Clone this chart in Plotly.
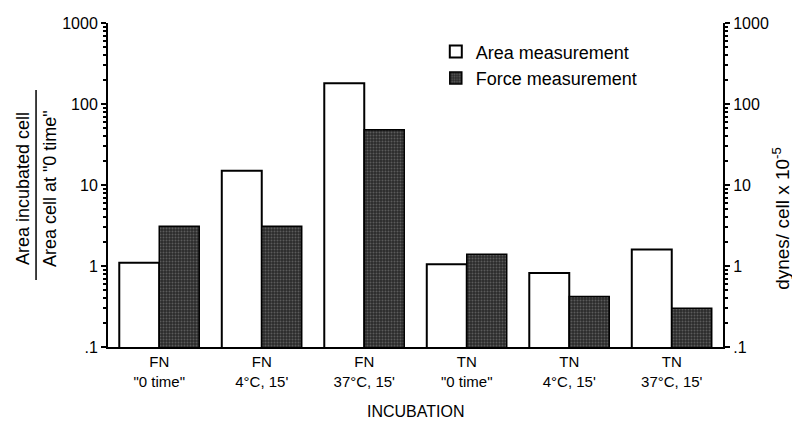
import plotly.graph_objects as go

categories = ['FN<br>"0 time"', "FN<br>4°C, 15'", "FN<br>37°C, 15'",
              'TN<br>"0 time"', "TN<br>4°C, 15'", "TN<br>37°C, 15'"]
area_values = [1.1, 15, 180, 1.05, 0.82, 1.6]
force_values = [3.1, 3.1, 48, 1.4, 0.42, 0.30]
tick_vals = [0.1, 1, 10, 100, 1000]
tick_text = [".1", "1", "10", "100", "1000"]

FONT = "Liberation Sans, Arial, Helvetica, sans-serif"

fig = go.Figure()
fig.add_trace(go.Bar(
    x=categories, y=area_values, name="Area measurement",
    marker=dict(color="white", line=dict(color="black", width=2)),
    width=0.39, offset=-0.39, yaxis="y",
))
fig.add_trace(go.Bar(
    x=categories, y=force_values, name="Force measurement",
    marker=dict(color="#2b2b2b", line=dict(color="black", width=1.5),
                pattern=dict(shape=".", fgcolor="#8c8c8c", size=3, solidity=0.35)),
    width=0.39, offset=0, yaxis="y2",
))

axis_common = dict(
    type="log", range=[-1, 3], tickvals=tick_vals, ticktext=tick_text,
    showgrid=False, zeroline=False, showline=True, linecolor="black", linewidth=2,
    ticks="outside", ticklen=5, tickwidth=1.5, tickcolor="black",
    minor=dict(ticks="outside", ticklen=3, tickcolor="black", dtick="D1", showgrid=False),
    tickfont=dict(family=FONT, size=16, color="black"),
    automargin=False,
)

fig.update_layout(
    width=792, height=419,
    margin=dict(l=100, r=77, t=15, b=80, autoexpand=False),
    paper_bgcolor="white", plot_bgcolor="white",
    font=dict(family=FONT, size=15, color="black"),
    showlegend=True,
    legend=dict(x=0.533, y=0.968, xanchor="left", yanchor="top",
                bgcolor="rgba(0,0,0,0)", font=dict(family=FONT, size=18, color="black"),
                tracegroupgap=0),
    xaxis=dict(range=[-0.5, 5.5], showgrid=False, zeroline=False, showline=True,
               linecolor="black", linewidth=2, ticks="", automargin=False,
               tickfont=dict(family=FONT, size=15, color="black")),
    yaxis=dict(**axis_common, side="left"),
    yaxis2=dict(**axis_common, side="right", overlaying="y"),
)

# x axis title
fig.add_annotation(text="INCUBATION", xref="paper", yref="paper",
                   x=0.5, y=-0.2, xanchor="center", yanchor="middle", showarrow=False,
                   font=dict(family=FONT, size=16, color="black"))
# left axis title as a fraction
fig.add_annotation(text="Area incubated cell", xref="paper", yref="paper",
                   x=-0.138, y=0.488, xanchor="center", yanchor="middle",
                   textangle=-90, showarrow=False,
                   font=dict(family=FONT, size=18, color="black"))
fig.add_annotation(text='Area cell at "0 time"', xref="paper", yref="paper",
                   x=-0.094, y=0.488, xanchor="center", yanchor="middle",
                   textangle=-90, showarrow=False,
                   font=dict(family=FONT, size=18, color="black"))
fig.add_shape(type="line", xref="paper", yref="paper",
              x0=-0.117, x1=-0.117, y0=0.207, y1=0.793,
              line=dict(color="black", width=1.5))
# right axis title
fig.add_annotation(text="dynes/ cell x 10<sup>-5</sup>", xref="paper", yref="paper",
                   x=1.094, y=0.398, xanchor="center", yanchor="middle",
                   textangle=-90, showarrow=False,
                   font=dict(family=FONT, size=19, color="black"))

fig.write_html("out.html")
